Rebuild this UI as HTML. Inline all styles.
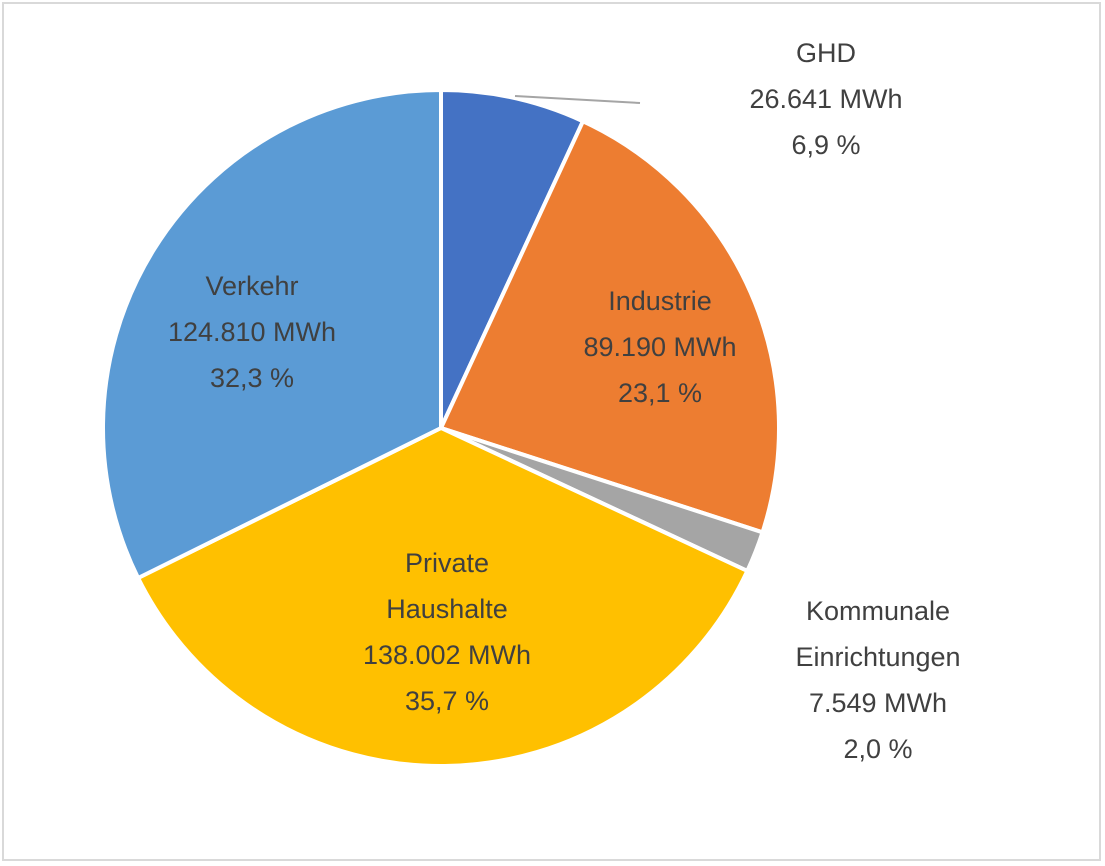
<!DOCTYPE html>
<html><head><meta charset="utf-8"><style>
body{margin:0;background:#fff;}
svg{display:block;font-family:"Liberation Sans",sans-serif;}
</style></head><body>
<svg id="chart" width="1105" height="866">
<rect x="3" y="3" width="1097" height="857" fill="#fff" stroke="#d9d9d9" stroke-width="2"/>
<g id="slices"></g>
<line x1="515" y1="96" x2="640" y2="103" stroke="#a5a5a5" stroke-width="2"/>
<g id="labels" font-size="27" fill="#404040" text-anchor="middle"></g>
</svg>
<script>
const categories=["GHD","Industrie","Kommunale Einrichtungen","Private Haushalte","Verkehr"];
const values=[26641,89190,7549,138002,124810];
const valueLabels=["26.641  MWh","89.190 MWh","7.549 MWh","138.002 MWh","124.810 MWh"];
const percentLabels=["6,9 %","23,1 %","2,0 %","35,7 %","32,3 %"];
const colors=["#4472c4","#ed7d31","#a5a5a5","#ffc000","#5b9bd5"];
const nameLines=[["GHD"],["Industrie"],["Kommunale","Einrichtungen"],["Private","Haushalte"],["Verkehr"]];
const labelPos=[[826,62],[660,310],[878,620],[447,572],[252,295]];
const cx=441,cy=428,r=338,NS="http://www.w3.org/2000/svg";
const total=values.reduce((a,b)=>a+b,0);
let a0=0;
const g=document.getElementById('slices');
values.forEach((v,i)=>{
  const a1=a0+v/total*2*Math.PI;
  const p=(a)=>[cx+r*Math.sin(a),cy-r*Math.cos(a)];
  const s=p(a0),e=p(a1),large=(a1-a0)>Math.PI?1:0;
  const path=document.createElementNS(NS,'path');
  path.setAttribute('d',`M${cx},${cy}L${s[0]},${s[1]}A${r},${r} 0 ${large} 1 ${e[0]},${e[1]}Z`);
  path.setAttribute('fill',colors[i]);
  path.setAttribute('stroke','#fff');
  path.setAttribute('stroke-width','4');
  
  
  g.appendChild(path);
  a0=a1;
});
const lg=document.getElementById('labels');
categories.forEach((c,i)=>{
  const lines=[...nameLines[i],valueLabels[i],percentLabels[i]];
  const t=document.createElementNS(NS,'text');
  
  
  lines.forEach((l,j)=>{
    const ts=document.createElementNS(NS,'tspan');
    ts.setAttribute('x',labelPos[i][0]);
    ts.setAttribute('y',labelPos[i][1]+j*46);
    ts.textContent=l;
    t.appendChild(ts);
  });
  lg.appendChild(t);
});
</script>
</body></html>
